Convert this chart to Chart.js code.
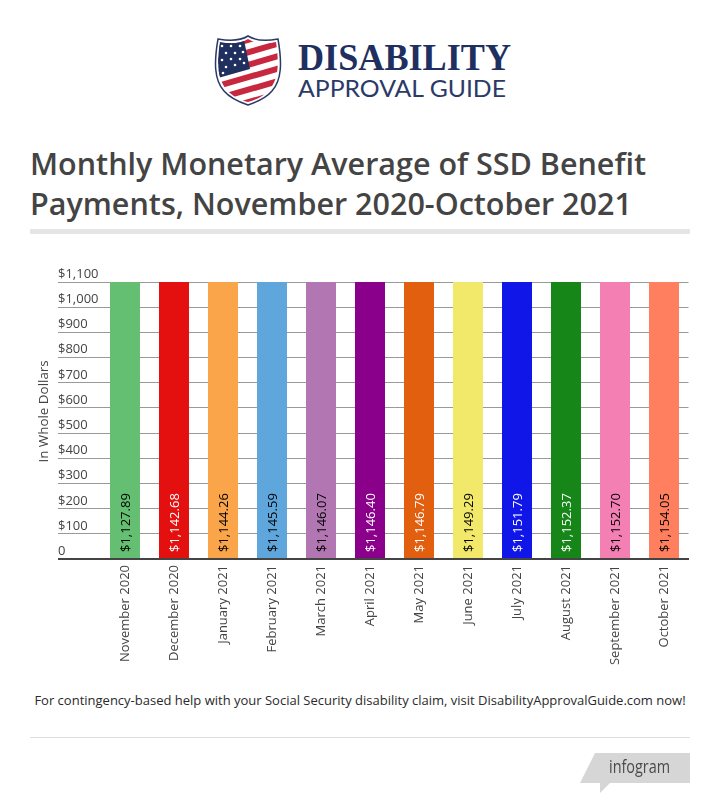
<!DOCTYPE html>
<html>
<head>
<meta charset="utf-8">
<title>Monthly Monetary Average of SSD Benefit Payments</title>
<script src="https://cdn.jsdelivr.net/npm/chart.js@4"></script>
<style>
    html, body { margin: 0; padding: 0; background: #fff; }
    body { position: relative; width: 720px; height: 809px; overflow: hidden; font-family: "Open Sans", sans-serif; }
    #logo, #badge { position: absolute; left: 0; top: 0; }
    #title { position: absolute; left: 30px; top: 144px; width: 680px; margin: 0; font-size: 30.5px; line-height: 39.5px; font-weight: 600; color: #444; }
    #titleRule { position: absolute; left: 30px; top: 229px; width: 660px; height: 5px; background: #e5e5e5; }
    #chartBox { position: absolute; left: 0; top: 250px; width: 720px; height: 430px; }
    #footnote { position: absolute; left: 0; top: 691px; width: 720px; text-align: center; font-size: 13px; color: #2a2a2a; }
    #footRule { position: absolute; left: 30px; top: 737px; width: 660px; height: 1px; background: #dedede; }
</style>
</head>
<body>
<svg id="logo" width="720" height="130" viewBox="0 0 720 130">
    <defs>
        <clipPath id="shieldClip">
            <path d="M248 39 C256 44 266 44 276 42 C279 62 279 78 270 89 C264 96 256 100 248 102 C240 100 232 96 226 89 C217 78 217 62 220 42 C230 44 240 44 248 39 Z"/>
        </clipPath>
    </defs>
    <path d="M248 36 C256 41 267 41 278 39 C282 62 282 80 272 91 C266 98 257 102 248 105 C239 102 230 98 224 91 C214 80 214 62 218 39 C229 41 240 41 248 36 Z" fill="#fff" stroke="#2b3a67" stroke-width="1.5"/>
    <g clip-path="url(#shieldClip)">
        <rect x="214" y="36" width="68" height="70" fill="#fff"/>
        <g transform="rotate(-16 248 70)" fill="#c8283f">
            <rect x="200" y="38" width="100" height="6"/>
            <rect x="200" y="50" width="100" height="6"/>
            <rect x="200" y="62" width="100" height="6"/>
            <rect x="200" y="74" width="100" height="6"/>
            <rect x="200" y="86" width="100" height="6"/>
            <rect x="200" y="98" width="100" height="6"/>
        </g>
        <path d="M214 40 L244 40 L250 69 L214 79 Z" fill="#1f2f5f"/>
        <g fill="#fff">
            <circle cx="222" cy="46" r="1.3"/><circle cx="231" cy="46" r="1.3"/><circle cx="240" cy="46" r="1.3"/>
            <circle cx="226" cy="53" r="1.3"/><circle cx="235" cy="53" r="1.3"/><circle cx="243" cy="52" r="1.3"/>
            <circle cx="222" cy="60" r="1.3"/><circle cx="231" cy="59" r="1.3"/><circle cx="240" cy="59" r="1.3"/>
            <circle cx="226" cy="67" r="1.3"/><circle cx="235" cy="65" r="1.3"/><circle cx="244" cy="63" r="1.3"/>
            <circle cx="223" cy="73" r="1.3"/>
        </g>
    </g>
    <text x="298" y="70" textLength="213" lengthAdjust="spacingAndGlyphs" font-family="Liberation Serif" font-weight="bold" font-size="37" fill="#1f2f5f">DISABILITY</text>
    <text x="298" y="97" textLength="208" lengthAdjust="spacingAndGlyphs" font-family="Lato" font-size="24" fill="#2b3a67">APPROVAL GUIDE</text>
</svg>

<h1 id="title">Monthly Monetary Average of SSD Benefit Payments, November 2020-October 2021</h1>
<div id="titleRule"></div>

<div id="chartBox"><canvas id="ssdChart" width="720" height="430"></canvas></div>

<div id="footnote">For contingency-based help with your Social Security disability claim, visit DisabilityApprovalGuide.com now!</div>
<div id="footRule"></div>

<svg id="badge" width="720" height="809" viewBox="0 0 720 809" style="pointer-events:none">
    <path d="M595 753 L690 753 L690 783 L610 783 L600 793 L600 783 L580 783 Z" fill="#d6d6d6"/>
    <text x="609" y="773" textLength="61" lengthAdjust="spacingAndGlyphs" font-family="Open Sans" font-size="18" fill="#4a4a4a">infogram</text>
</svg>

<script>
const months = ['November 2020', 'December 2020', 'January 2021', 'February 2021', 'March 2021', 'April 2021',
    'May 2021', 'June 2021', 'July 2021', 'August 2021', 'September 2021', 'October 2021'];
const payments = [1127.89, 1142.68, 1144.26, 1145.59, 1146.07, 1146.40, 1146.79, 1149.29, 1151.79, 1152.37, 1152.70, 1154.05];
const barColors = ['#65bf72', '#e3100f', '#fba54a', '#5fa6dc', '#b277b2', '#8b008b',
    '#e35f10', '#f2e96b', '#1016e8', '#168618', '#f47fb3', '#ff7f5f'];
const labelColors = ['#000', '#fff', '#000', '#000', '#000', '#fff', '#fff', '#000', '#fff', '#fff', '#000', '#000'];
const axisTitle = 'In Whole Dollars';

const tickFont = '"Open Sans", sans-serif';
const money = (v) => '$' + v.toLocaleString('en-US', { minimumFractionDigits: 2 });

// valores escritos en vertical dentro de cada barra, y titulo del eje Y
const barLabels = {
    id: 'barLabels',
    afterDatasetsDraw(chart) {
        const { ctx } = chart;
        chart.getDatasetMeta(0).data.forEach((bar, i) => {
            ctx.save();
            ctx.translate(bar.x + 1, bar.base - 6);
            ctx.rotate(-Math.PI / 2);
            ctx.font = '500 13px ' + tickFont;
            ctx.fillStyle = labelColors[i];
            ctx.textAlign = 'left';
            ctx.textBaseline = 'middle';
            ctx.fillText(money(payments[i]), 0, 0);
            ctx.restore();
        });

        ctx.save();
        ctx.translate(44, chart.scales.y.getPixelForValue(586));
        ctx.rotate(-Math.PI / 2);
        ctx.font = '13.4px ' + tickFont;
        ctx.fillStyle = '#444';
        ctx.textAlign = 'center';
        ctx.textBaseline = 'middle';
        ctx.fillText(axisTitle, 0, 0);
        ctx.restore();
    }
};

new Chart(document.getElementById('ssdChart').getContext('2d'), {
    type: 'bar',
    data: {
        labels: months,
        datasets: [{
            data: payments,
            backgroundColor: barColors,
            barPercentage: 1,
            categoryPercentage: 0.612
        }]
    },
    options: {
        responsive: false,
        animation: false,
        layout: { padding: { left: 58, right: 31.5, top: 32, bottom: 0 } },
        plugins: { legend: { display: false }, tooltip: { enabled: false } },
        scales: {
            x: {
                grid: { display: false },
                border: { color: '#444', width: 2 },
                ticks: {
                    minRotation: 90,
                    maxRotation: 90,
                    autoSkip: false,
                    padding: -2,
                    color: '#444',
                    font: { family: tickFont, size: 13 }
                },
                afterFit: (scale) => { scale.height = 121; }
            },
            y: {
                min: 0,
                max: 1100,
                afterFit: (scale) => { scale.width = 42.5; },
                border: { display: false },
                grid: {
                    color: (c) => c.tick.value === 0 ? '#444' : '#999',
                    lineWidth: (c) => c.tick.value === 0 ? 2 : 1,
                    tickLength: 42.5,
                    tickColor: (c) => c.tick.value === 0 ? '#444' : '#999',
                    tickWidth: (c) => c.tick.value === 0 ? 2 : 1
                },
                ticks: {
                    stepSize: 100,
                    autoSkip: false,
                    crossAlign: 'far',
                    color: '#444',
                    font: { family: tickFont, size: 13, weight: '500' },
                    // linea vacia para subir el texto por encima de la rejilla
                    callback: (v) => [v === 0 ? '0' : '$' + v.toLocaleString('en-US'), '']
                }
            }
        }
    },
    plugins: [barLabels]
});
</script>
</body>
</html>
